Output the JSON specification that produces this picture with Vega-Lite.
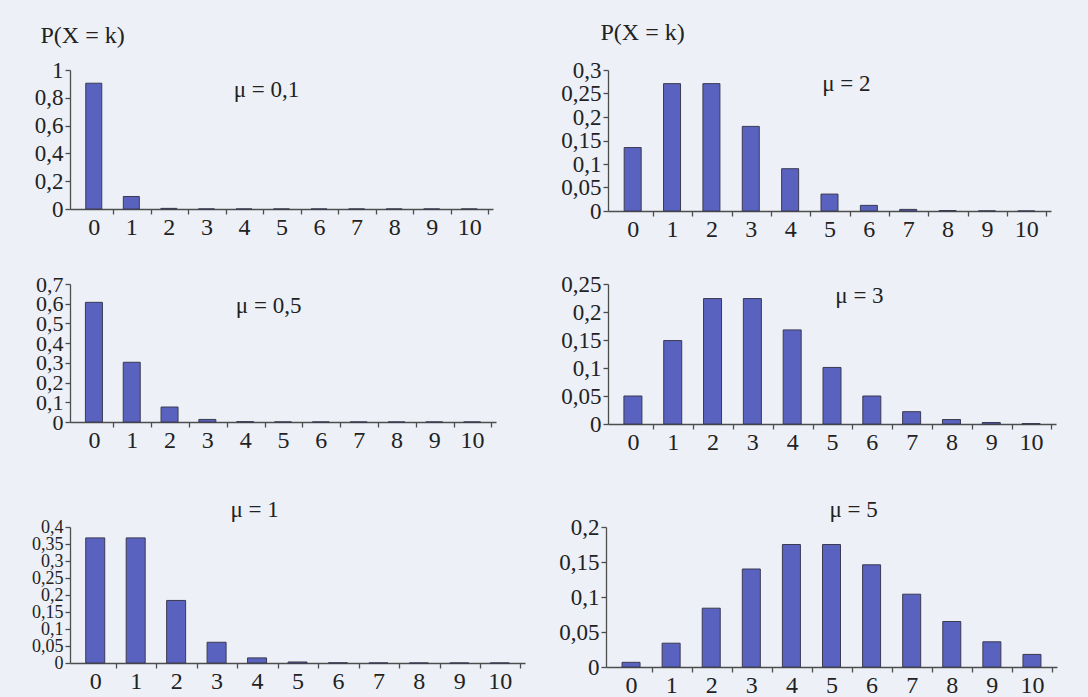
{
  "$schema": "https://vega.github.io/schema/vega-lite/v6.json",
  "background": "#edf0f7",
  "padding": {"left": 20, "top": 20, "right": 31, "bottom": 0},
  "spacing": 30,
  "datasets": {
    "poisson": [
      {"mu": "0,1", "k": 0, "p": 0.905}, {"mu": "0,1", "k": 1, "p": 0.09}, {"mu": "0,1", "k": 2, "p": 0.0045},
      {"mu": "0,1", "k": 3, "p": 0.0002}, {"mu": "0,1", "k": 4, "p": 0}, {"mu": "0,1", "k": 5, "p": 0},
      {"mu": "0,1", "k": 6, "p": 0}, {"mu": "0,1", "k": 7, "p": 0}, {"mu": "0,1", "k": 8, "p": 0},
      {"mu": "0,1", "k": 9, "p": 0}, {"mu": "0,1", "k": 10, "p": 0},

      {"mu": "0,5", "k": 0, "p": 0.607}, {"mu": "0,5", "k": 1, "p": 0.303}, {"mu": "0,5", "k": 2, "p": 0.076},
      {"mu": "0,5", "k": 3, "p": 0.013}, {"mu": "0,5", "k": 4, "p": 0.0016}, {"mu": "0,5", "k": 5, "p": 0.0002},
      {"mu": "0,5", "k": 6, "p": 0}, {"mu": "0,5", "k": 7, "p": 0}, {"mu": "0,5", "k": 8, "p": 0},
      {"mu": "0,5", "k": 9, "p": 0}, {"mu": "0,5", "k": 10, "p": 0},

      {"mu": "1", "k": 0, "p": 0.368}, {"mu": "1", "k": 1, "p": 0.368}, {"mu": "1", "k": 2, "p": 0.184},
      {"mu": "1", "k": 3, "p": 0.061}, {"mu": "1", "k": 4, "p": 0.015}, {"mu": "1", "k": 5, "p": 0.003},
      {"mu": "1", "k": 6, "p": 0.0005}, {"mu": "1", "k": 7, "p": 0.0001}, {"mu": "1", "k": 8, "p": 0},
      {"mu": "1", "k": 9, "p": 0}, {"mu": "1", "k": 10, "p": 0},

      {"mu": "2", "k": 0, "p": 0.135}, {"mu": "2", "k": 1, "p": 0.271}, {"mu": "2", "k": 2, "p": 0.271},
      {"mu": "2", "k": 3, "p": 0.18}, {"mu": "2", "k": 4, "p": 0.09}, {"mu": "2", "k": 5, "p": 0.036},
      {"mu": "2", "k": 6, "p": 0.012}, {"mu": "2", "k": 7, "p": 0.0034}, {"mu": "2", "k": 8, "p": 0.0009},
      {"mu": "2", "k": 9, "p": 0.0002}, {"mu": "2", "k": 10, "p": 0},

      {"mu": "3", "k": 0, "p": 0.05}, {"mu": "3", "k": 1, "p": 0.149}, {"mu": "3", "k": 2, "p": 0.224},
      {"mu": "3", "k": 3, "p": 0.224}, {"mu": "3", "k": 4, "p": 0.168}, {"mu": "3", "k": 5, "p": 0.101},
      {"mu": "3", "k": 6, "p": 0.05}, {"mu": "3", "k": 7, "p": 0.022}, {"mu": "3", "k": 8, "p": 0.008},
      {"mu": "3", "k": 9, "p": 0.0027}, {"mu": "3", "k": 10, "p": 0.0008},

      {"mu": "5", "k": 0, "p": 0.0067}, {"mu": "5", "k": 1, "p": 0.034}, {"mu": "5", "k": 2, "p": 0.084},
      {"mu": "5", "k": 3, "p": 0.14}, {"mu": "5", "k": 4, "p": 0.175}, {"mu": "5", "k": 5, "p": 0.175},
      {"mu": "5", "k": 6, "p": 0.146}, {"mu": "5", "k": 7, "p": 0.104}, {"mu": "5", "k": 8, "p": 0.065},
      {"mu": "5", "k": 9, "p": 0.036}, {"mu": "5", "k": 10, "p": 0.018}
    ],
    "series": [
      {"mu": "0,1", "label": "μ = 0,1"},
      {"mu": "0,5", "label": "μ = 0,5"},
      {"mu": "1", "label": "μ = 1"},
      {"mu": "2", "label": "μ = 2"},
      {"mu": "3", "label": "μ = 3"},
      {"mu": "5", "label": "μ = 5"}
    ]
  },
  "vconcat": [
    {
      "spacing": 65,
      "hconcat": [
        {
          "width": 423, "height": 139,
          "layer": [
            {
              "data": {"name": "poisson"},
              "transform": [{"filter": "datum.mu === '0,1'"}],
              "mark": {"type": "bar", "size": 16, "fill": "#5a62c0", "stroke": "#3a3a50", "strokeWidth": 1},
              "encoding": {
                "x": {"field": "k", "type": "quantitative", "scale": {"domain": [-0.5, 10.5], "nice": false, "zero": false},
                      "axis": {"values": [0, 1, 2, 3, 4, 5, 6, 7, 8, 9, 10], "format": "d", "tickCount": 30, "tickOffset": 19.2, "labelOffset": -19.2, "title": null,
                               "labelOverlap": false, "labelFlush": false, "labelBound": false}},
                "y": {"field": "p", "type": "quantitative", "scale": {"domain": [0, 1], "nice": false},
                      "axis": {"values": [0, 0.2, 0.4, 0.6, 0.8, 1], "tickCount": 30, "labelExpr": "replace(toString(datum.value), '.', ',')",
                               "labelOverlap": false, "labelFlush": false, "labelBound": false,
                               "title": "P(X = k)", "titleX": -30, "titleY": -28}}
              }
            },
            {
              "data": {"name": "series"},
              "transform": [{"filter": "datum.mu === '0,1'"}],
              "mark": {"type": "text"},
              "encoding": {
                "x": {"datum": 4.6, "type": "quantitative", "scale": {"domain": [-0.5, 10.5], "nice": false, "zero": false}},
                "y": {"datum": 0.855, "type": "quantitative", "scale": {"domain": [0, 1], "nice": false}},
                "text": {"field": "label"}
              }
            }
          ]
        },
        {
          "width": 443, "height": 141,
          "layer": [
            {
              "data": {"name": "poisson"},
              "transform": [{"filter": "datum.mu === '2'"}],
              "mark": {"type": "bar", "size": 17, "fill": "#5a62c0", "stroke": "#3a3a50", "strokeWidth": 1},
              "encoding": {
                "x": {"field": "k", "type": "quantitative", "scale": {"domain": [-0.5, 10.5], "nice": false, "zero": false},
                      "axis": {"values": [0, 1, 2, 3, 4, 5, 6, 7, 8, 9, 10], "format": "d", "tickCount": 30, "tickOffset": 20.1, "labelOffset": -20.1, "title": null,
                               "labelOverlap": false, "labelFlush": false, "labelBound": false}},
                "y": {"field": "p", "type": "quantitative", "scale": {"domain": [0, 0.3], "nice": false},
                      "axis": {"values": [0, 0.05, 0.1, 0.15, 0.2, 0.25, 0.3], "tickCount": 30, "labelExpr": "replace(toString(datum.value), '.', ',')",
                               "labelOverlap": false, "labelFlush": false, "labelBound": false,
                               "title": "P(X = k)", "titleX": -8, "titleY": -31}}
              }
            },
            {
              "data": {"name": "series"},
              "transform": [{"filter": "datum.mu === '2'"}],
              "mark": {"type": "text"},
              "encoding": {
                "x": {"datum": 5.43, "type": "quantitative", "scale": {"domain": [-0.5, 10.5], "nice": false, "zero": false}},
                "y": {"datum": 0.27, "type": "quantitative", "scale": {"domain": [0, 0.3], "nice": false}},
                "text": {"field": "label"}
              }
            }
          ]
        }
      ]
    },
    {
      "spacing": 62,
      "hconcat": [
        {
          "width": 426, "height": 138,
          "layer": [
            {
              "data": {"name": "poisson"},
              "transform": [{"filter": "datum.mu === '0,5'"}],
              "mark": {"type": "bar", "size": 17, "fill": "#5a62c0", "stroke": "#3a3a50", "strokeWidth": 1},
              "encoding": {
                "x": {"field": "k", "type": "quantitative", "scale": {"domain": [-0.5, 10.5], "nice": false, "zero": false},
                      "axis": {"values": [0, 1, 2, 3, 4, 5, 6, 7, 8, 9, 10], "format": "d", "tickCount": 30, "tickOffset": 19.4, "labelOffset": -19.4, "title": null,
                               "labelOverlap": false, "labelFlush": false, "labelBound": false,
                               "minExtent": 45, "maxExtent": 45}},
                "y": {"field": "p", "type": "quantitative", "scale": {"domain": [0, 0.7], "nice": false},
                      "axis": {"values": [0, 0.1, 0.2, 0.3, 0.4, 0.5, 0.6, 0.7], "tickCount": 30, "labelExpr": "replace(toString(datum.value), '.', ',')",
                               "labelOverlap": false, "labelFlush": false, "labelBound": false, "labelFontSize": 22,
                               "title": null, "minExtent": 48, "maxExtent": 48}}
              }
            },
            {
              "data": {"name": "series"},
              "transform": [{"filter": "datum.mu === '0,5'"}],
              "mark": {"type": "text"},
              "encoding": {
                "x": {"datum": 4.62, "type": "quantitative", "scale": {"domain": [-0.5, 10.5], "nice": false, "zero": false}},
                "y": {"datum": 0.59, "type": "quantitative", "scale": {"domain": [0, 0.7], "nice": false}},
                "text": {"field": "label"}
              }
            }
          ]
        },
        {
          "width": 448, "height": 140,
          "layer": [
            {
              "data": {"name": "poisson"},
              "transform": [{"filter": "datum.mu === '3'"}],
              "mark": {"type": "bar", "size": 18, "fill": "#5a62c0", "stroke": "#3a3a50", "strokeWidth": 1},
              "encoding": {
                "x": {"field": "k", "type": "quantitative", "scale": {"domain": [-0.5, 10.5], "nice": false, "zero": false},
                      "axis": {"values": [0, 1, 2, 3, 4, 5, 6, 7, 8, 9, 10], "format": "d", "tickCount": 30, "tickOffset": 20.4, "labelOffset": -20.4, "title": null,
                               "labelOverlap": false, "labelFlush": false, "labelBound": false,
                               "minExtent": 45, "maxExtent": 45}},
                "y": {"field": "p", "type": "quantitative", "scale": {"domain": [0, 0.25], "nice": false},
                      "axis": {"values": [0, 0.05, 0.1, 0.15, 0.2, 0.25], "tickCount": 30, "labelExpr": "replace(toString(datum.value), '.', ',')",
                               "labelOverlap": false, "labelFlush": false, "labelBound": false,
                               "title": null}}
              }
            },
            {
              "data": {"name": "series"},
              "transform": [{"filter": "datum.mu === '3'"}],
              "mark": {"type": "text"},
              "encoding": {
                "x": {"datum": 5.69, "type": "quantitative", "scale": {"domain": [-0.5, 10.5], "nice": false, "zero": false}},
                "y": {"datum": 0.229, "type": "quantitative", "scale": {"domain": [0, 0.25], "nice": false}},
                "text": {"field": "label"}
              }
            }
          ]
        }
      ]
    },
    {
      "spacing": 31,
      "hconcat": [
        {
          "width": 455, "height": 136,
          "layer": [
            {
              "data": {"name": "poisson"},
              "transform": [{"filter": "datum.mu === '1'"}],
              "mark": {"type": "bar", "size": 19, "fill": "#5a62c0", "stroke": "#3a3a50", "strokeWidth": 1},
              "encoding": {
                "x": {"field": "k", "type": "quantitative", "scale": {"domain": [-0.5, 10.5], "nice": false, "zero": false},
                      "axis": {"values": [0, 1, 2, 3, 4, 5, 6, 7, 8, 9, 10], "format": "d", "tickCount": 30, "tickOffset": 20.7, "labelOffset": -20.7, "title": null,
                               "labelOverlap": false, "labelFlush": false, "labelBound": false,
                               "minExtent": 28, "maxExtent": 28}},
                "y": {"field": "p", "type": "quantitative", "scale": {"domain": [0, 0.4], "nice": false},
                      "axis": {"values": [0, 0.05, 0.1, 0.15, 0.2, 0.25, 0.3, 0.35, 0.4], "tickCount": 30, "labelExpr": "replace(toString(datum.value), '.', ',')",
                               "labelOverlap": false, "labelFlush": false, "labelBound": false, "labelFontSize": 18,
                               "title": null}}
              }
            },
            {
              "data": {"name": "series"},
              "transform": [{"filter": "datum.mu === '1'"}],
              "mark": {"type": "text"},
              "encoding": {
                "x": {"datum": 3.94, "type": "quantitative", "scale": {"domain": [-0.5, 10.5], "nice": false, "zero": false}},
                "y": {"datum": 0.45, "type": "quantitative", "scale": {"domain": [0, 0.4], "nice": false}},
                "text": {"field": "label"}
              }
            }
          ]
        },
        {
          "width": 451, "height": 140,
          "layer": [
            {
              "data": {"name": "poisson"},
              "transform": [{"filter": "datum.mu === '5'"}],
              "mark": {"type": "bar", "size": 18, "fill": "#5a62c0", "stroke": "#3a3a50", "strokeWidth": 1},
              "encoding": {
                "x": {"field": "k", "type": "quantitative", "scale": {"domain": [-0.5, 10.5], "nice": false, "zero": false},
                      "axis": {"values": [0, 1, 2, 3, 4, 5, 6, 7, 8, 9, 10], "format": "d", "tickCount": 30, "tickOffset": 20.5, "labelOffset": -20.5, "title": null,
                               "labelOverlap": false, "labelFlush": false, "labelBound": false,
                               "minExtent": 28, "maxExtent": 28}},
                "y": {"field": "p", "type": "quantitative", "scale": {"domain": [0, 0.2], "nice": false},
                      "axis": {"values": [0, 0.05, 0.1, 0.15, 0.2], "tickCount": 30, "labelExpr": "replace(toString(datum.value), '.', ',')",
                               "labelOverlap": false, "labelFlush": false, "labelBound": false,
                               "title": null}}
              }
            },
            {
              "data": {"name": "series"},
              "transform": [{"filter": "datum.mu === '5'"}],
              "mark": {"type": "text"},
              "encoding": {
                "x": {"datum": 5.55, "type": "quantitative", "scale": {"domain": [-0.5, 10.5], "nice": false, "zero": false}},
                "y": {"datum": 0.224, "type": "quantitative", "scale": {"domain": [0, 0.2], "nice": false}},
                "text": {"field": "label"}
              }
            }
          ]
        }
      ]
    }
  ],
  "config": {
    "view": {"stroke": null},
    "font": "Liberation Serif",
    "axis": {
      "grid": false,
      "domainColor": "#4d4d4d", "domainWidth": 1.3,
      "tickColor": "#4d4d4d", "tickWidth": 1.3, "tickSize": 5,
      "labelColor": "#222222", "labelFont": "Liberation Serif",
      "titleFont": "Liberation Serif", "titleFontWeight": "normal", "titleFontSize": 24, "titleColor": "#222222",
      "titleAngle": 0, "titleAlign": "left", "titleBaseline": "alphabetic"
    },
    "axisX": {"labelFontSize": 24, "labelPadding": 1, "minExtent": 32, "maxExtent": 32},
    "axisY": {"labelFontSize": 23, "labelPadding": 2, "minExtent": 50, "maxExtent": 50},
    "text": {"font": "Liberation Serif", "fontSize": 23, "color": "#222222", "align": "center", "baseline": "middle"}
  }
}
